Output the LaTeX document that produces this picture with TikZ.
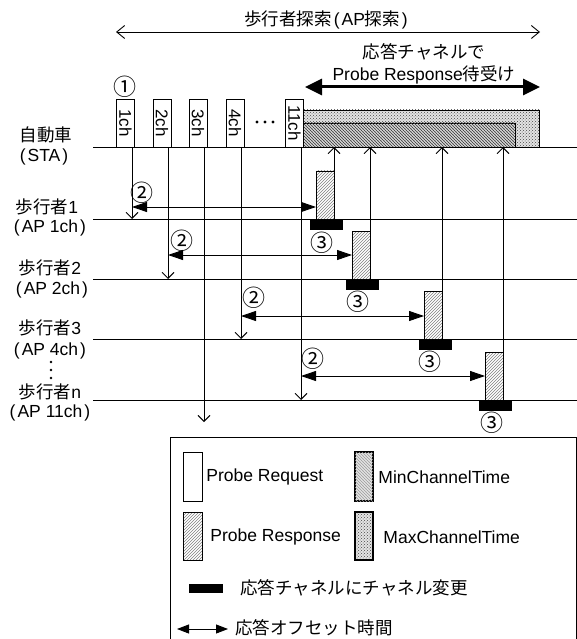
\documentclass[tikz,border=0pt]{standalone}
\usepackage{fontspec}
\setmainfont{Liberation Sans}
\newfontfamily\jp{Noto Sans CJK JP}
\usetikzlibrary{arrows.meta,patterns,calc}
\begin{document}
\begin{tikzpicture}[x=1pt,y=-1pt,line width=0.9pt,
  lbl/.style={font=\fontsize{17.5}{19}\selectfont, inner sep=0pt},
  leg/.style={lbl, anchor=west},
  num/.style={font=\jp\fontsize{23}{24}\selectfont, inner sep=0pt},
  reqbox/.style={draw, fill=white, rotate=-90, minimum width=48pt, minimum height=18pt, inner sep=0pt, outer sep=0pt, font=\fontsize{17}{18}\selectfont},
  respbox/.style={draw, pattern=north east lines, pattern color=gray, minimum width=18pt, minimum height=48pt, inner sep=0pt, outer sep=0pt},
  chbar/.style={fill=black, minimum width=33pt, minimum height=11pt, inner sep=0pt, outer sep=0pt, anchor=north},
  maxpat/.style={draw, preaction={fill=gray!22}, pattern=crosshatch dots, pattern color=gray!55!black, inner sep=0pt, outer sep=0pt},
  minpat/.style={draw, preaction={fill=gray!28}, pattern=crosshatch dots, pattern color=gray!55!black, postaction={pattern=north west lines, pattern color=gray!50!black}, inner sep=0pt, outer sep=0pt},
  legminpat/.style={draw, preaction={fill=gray!20}, pattern=crosshatch dots, pattern color=gray!60, postaction={pattern=north west lines, pattern color=gray!75}, inner sep=0pt, outer sep=0pt},
  barb/.style={-{Straight Barb[length=6pt,width=12pt]}},
  thinboth/.style={{Straight Barb[length=8pt,width=13pt]}-{Straight Barb[length=8pt,width=13pt]}},
  thickboth/.style={line width=3pt, {Triangle[length=17pt,width=16pt]}-{Triangle[length=17pt,width=16pt]}},
  offarr/.style={{Triangle[length=15pt,width=10pt]}-{Triangle[length=15pt,width=10pt]}},
  legarr/.style={{Triangle[length=12pt,width=9pt]}-{Triangle[length=12pt,width=9pt]}}]
\useasboundingbox (0,0) rectangle (577,639);

% ---- header ----
\node[lbl] (title) at (326,20) {{\jp 歩行者探索}\kern2pt(\kern2pt AP{\jp 探索}\kern2pt)};
\coordinate (tl) at (116,32);
\coordinate (tr) at (540,32);
\draw[thinboth] (tl) -- (tr);
\node[lbl] (wait1) at (424,52) {\jp 応答チャネルで};
\node[lbl] (wait2) at (424,75) {Probe Response{\jp 待受け}};
\coordinate (wl) at (305,87);
\coordinate (wr) at (540,87);
\draw[thickboth] (wl) -- (wr);
\node[num] (c1) at (125,87) {①};

% ---- time lines ----
\coordinate (staL) at (93,147);  \coordinate (staR) at (577,147);
\coordinate (p1L) at (93,219);   \coordinate (p1R) at (577,219);
\coordinate (p2L) at (93,279);   \coordinate (p2R) at (577,279);
\coordinate (p3L) at (93,339);   \coordinate (p3R) at (577,339);
\coordinate (pnL) at (93,400);   \coordinate (pnR) at (577,400);

% channel time rectangles
\node[maxpat, minimum width=236pt, minimum height=37pt, anchor=south west] (maxrect) at (303,147) {};
\node[minpat, minimum width=212pt, minimum height=24pt, anchor=south west] (minrect) at (303,147) {};

\draw (staL) -- (staR);
\draw (p1L) -- (p1R);
\draw (p2L) -- (p2R);
\draw (p3L) -- (p3R);
\draw (pnL) -- (pnR);

% probe request boxes
\node[reqbox] (req1) at (125.5,123) {1ch};
\node[reqbox] (req2) at (162,123) {2ch};
\node[reqbox] (req3) at (198,123) {3ch};
\node[reqbox] (req4) at (235,123) {4ch};
\node[reqbox] (req11) at (294.5,123) {11ch};
\fill (257,122) circle (1.6pt) (265,122) circle (1.6pt) (273,122) circle (1.6pt);

% down arrows from STA
\coordinate (s1) at (132,147);
\coordinate (s2) at (168,147);
\coordinate (s3) at (204,147);
\coordinate (s4) at (241,147);
\coordinate (s11) at (301,147);
\coordinate (s3end) at (204,422);
\draw[barb] (s1) -- (s1 |- p1L);
\draw[barb] (s2) -- (s2 |- p2L);
\draw[barb] (s3) -- (s3end);
\draw[barb] (s4) -- (s4 |- p3L);
\draw[barb] (s11) -- (s11 |- pnL);

% probe responses
\node[respbox] (resp1) at (325,195) {};
\node[respbox] (resp2) at (361,255) {};
\node[respbox] (resp3) at (433,315) {};
\node[respbox] (respn) at (494,376) {};
\node[chbar] (bar1) at (326.5,219) {};
\node[chbar] (bar2) at (362.5,279) {};
\node[chbar] (bar3) at (435,339) {};
\node[chbar] (barn) at (495.5,400) {};

% up arrows to STA
\draw[barb] (resp1.north east) -- (resp1.north east |- staL);
\draw[barb] (resp2.north east) -- (resp2.north east |- staL);
\draw[barb] (resp3.north east) -- (resp3.north east |- staL);
\draw[barb] (respn.north east) -- (respn.north east |- staL);

% offset arrows
\coordinate (o1) at (132,207);
\coordinate (o2) at (168,255);
\coordinate (o3) at (241,316);
\coordinate (on) at (301,376);
\draw[offarr] (o1) -- (o1 -| resp1.west);
\draw[offarr] (o2) -- (o2 -| resp2.west);
\draw[offarr] (o3) -- (o3 -| resp3.west);
\draw[offarr] (on) -- (on -| respn.west);

\node[num] (n21) at (142,193) {②};
\node[num] (n22) at (182,241) {②};
\node[num] (n23) at (254,298) {②};
\node[num] (n2n) at (313,359) {②};
\node[num] (n31) at (322,243) {③};
\node[num] (n32) at (358,302) {③};
\node[num] (n33) at (430,362) {③};
\node[num] (n3n) at (492,423) {③};

% left labels
\node[lbl] (sta) at (46,135) {\jp 自動車};
\node[lbl] (sta2) at (44,157) {(\kern2pt STA\kern2pt)};
\node[lbl] (ap1) at (47,207) {{\jp 歩行者}1};
\node[lbl] (ap1b) at (50,228) {(\kern2pt AP 1ch\kern2pt)};
\node[lbl] (ap2) at (50,268) {{\jp 歩行者}2};
\node[lbl] (ap2b) at (52,290) {(\kern2pt AP 2ch\kern2pt)};
\node[lbl] (ap3) at (50,328) {{\jp 歩行者}3};
\node[lbl] (ap3b) at (50,351) {(\kern2pt AP 4ch\kern2pt)};
\fill (51,362) circle (1.4pt) (51,370) circle (1.4pt) (51,378) circle (1.4pt);
\node[lbl] (apn) at (50,392) {{\jp 歩行者}n};
\node[lbl] (apnb) at (50,413) {(\kern2pt AP 11ch\kern2pt)};

% ---- legend ----
\coordinate (lgA) at (170,639);
\coordinate (lgB) at (170,437);
\coordinate (lgC) at (576,437);
\coordinate (lgD) at (576,639);
\draw (lgA) -- (lgB) -- (lgC) -- (lgD);

\node[draw, fill=white, minimum width=19pt, minimum height=49pt, inner sep=0pt] (lreq) at (192.5,476.5) {};
\node[leg] (lreqt) at (206,477) {Probe Request};
\node[legminpat, line width=1.3pt, minimum width=18pt, minimum height=49pt] (lmin) at (364,476.5) {};
\node[leg] (lmint) at (378,477) {MinChannelTime};
\node[respbox, minimum width=19pt] (lresp) at (192.5,536) {};
\node[leg] (lrespt) at (210,537) {Probe Response};
\node[maxpat, line width=1.3pt, minimum width=18pt, minimum height=48pt] (lmax) at (364,536) {};
\node[leg] (lmaxt) at (383,537) {MaxChannelTime};
\node[chbar, minimum width=34pt, minimum height=9pt, anchor=center] (lbar) at (206,588.5) {};
\node[leg] (lbart) at (240,588) {\jp 応答チャネルにチャネル変更};
\coordinate (laL) at (177,629);
\coordinate (laR) at (228,629);
\draw[legarr] (laL) -- (laR);
\node[leg] (lart) at (235,628) {\jp 応答オフセット時間};
\end{tikzpicture}
\end{document}
